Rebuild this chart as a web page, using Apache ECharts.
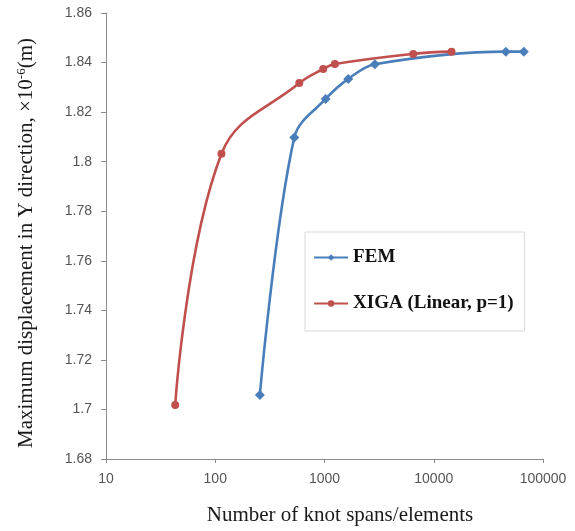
<!DOCTYPE html>
<html>
<head>
<meta charset="utf-8">
<script src="https://cdn.jsdelivr.net/npm/echarts@6/dist/echarts.min.js"></script>
<style>
html,body{margin:0;padding:0;background:#fff;}
#chart{width:575px;height:531px;}
</style>
</head>
<body>
<div id="chart"></div>
<script>
// ---- data ----
const seriesNames = ['FEM', 'XIGA (Linear, p=1)'];
const femX  = [256, 529, 1024, 1650, 2890, 45700, 66700];
const femY  = [1.7058, 1.8098, 1.8253, 1.8334, 1.8393, 1.8444, 1.8444];
const xigaX = [43, 114, 588, 973, 1245, 6490, 14550];
const xigaY = [1.7018, 1.8032, 1.8317, 1.8374, 1.8394, 1.8435, 1.8444];
const xTickLabels = ['10', '100', '1000', '10000', '100000'];
const yTickLabels = ['1.68','1.7','1.72','1.74','1.76','1.78','1.8','1.82','1.84','1.86'];
const xTitle = 'Number of knot spans/elements';
const yTitleMain = 'Maximum displacement in Y direction, ×10';
const yTitleSup = '-6';
const yTitleEnd = '(m)';

const pairs = (xs, ys) => xs.map((x, i) => [x, ys[i]]);

const chart = echarts.init(document.getElementById('chart'), null, {renderer: 'canvas'});
const tickFont = {fontFamily: 'Liberation Sans', fontSize: 14, color: '#555555'};
const axisGray = '#8c8c8c';

chart.setOption({
  animation: false,
  backgroundColor: '#ffffff',
  grid: {left: 106, right: 32, top: 13, bottom: 70, containLabel: false},
  legend: {
    data: seriesNames,
    orient: 'vertical',
    left: 305, top: 232,
    padding: [16, 11, 18, 8],
    itemGap: 27,
    itemWidth: 34, itemHeight: 8,
    borderColor: '#d9d9d9', borderWidth: 1,
    backgroundColor: '#ffffff',
    lineStyle: {width: 2.2},
    textStyle: {fontFamily: 'Liberation Serif', fontWeight: 'bold', fontSize: 19, color: '#111'}
  },
  xAxis: {
    type: 'log', logBase: 10, min: 10, max: 100000,
    name: xTitle,
    nameLocation: 'middle', nameGap: 46,
    nameTextStyle: {fontFamily: 'Liberation Serif', fontSize: 21, color: '#1a1a1a', padding: [0, 0, 0, 31]},
    axisLine: {lineStyle: {color: axisGray, width: 1}},
    axisTick: {show: true, length: 4, lineStyle: {color: axisGray}},
    minorTick: {show: false},
    splitLine: {show: false},
    axisLabel: Object.assign({margin: 13, formatter: v => {
      const i = Math.round(Math.log10(v)) - 1;
      return xTickLabels[i] !== undefined ? xTickLabels[i] : '';
    }}, tickFont)
  },
  yAxis: {
    type: 'value', min: 1.68, max: 1.86, interval: 0.02,
    name: '{t|' + yTitleMain + '}{s|' + yTitleSup + '}{t|' + yTitleEnd + '}',
    nameLocation: 'middle', nameGap: 69, nameRotate: 90,
    nameTextStyle: {
      padding: [0, 14, 0, 0],
      rich: {
        t: {fontFamily: 'Liberation Serif', fontSize: 21, color: '#1a1a1a', lineHeight: 22},
        s: {fontFamily: 'Liberation Serif', fontSize: 13, color: '#1a1a1a', verticalAlign: 'top', lineHeight: 22}
      }
    },
    axisLine: {show: true, lineStyle: {color: axisGray, width: 1}},
    axisTick: {show: true, length: 5, lineStyle: {color: axisGray}},
    splitLine: {show: false},
    axisLabel: Object.assign({margin: 14, formatter: v => {
      const i = Math.round((v - 1.68) / 0.02);
      return yTickLabels[i] !== undefined ? yTickLabels[i] : '';
    }}, tickFont)
  },
  series: [
    {
      name: seriesNames[0], type: 'line', data: pairs(femX, femY),
      smooth: 0.35,
      symbol: 'diamond', symbolSize: 10,
      lineStyle: {color: '#4a7ebb', width: 2.6},
      itemStyle: {color: '#4a7ebb'}
    },
    {
      name: seriesNames[1], type: 'line', data: pairs(xigaX, xigaY),
      smooth: 0.4,
      symbol: 'circle', symbolSize: 8,
      lineStyle: {color: '#c0504d', width: 2.6},
      itemStyle: {color: '#c0504d'}
    }
  ]
});
</script>
</body>
</html>
